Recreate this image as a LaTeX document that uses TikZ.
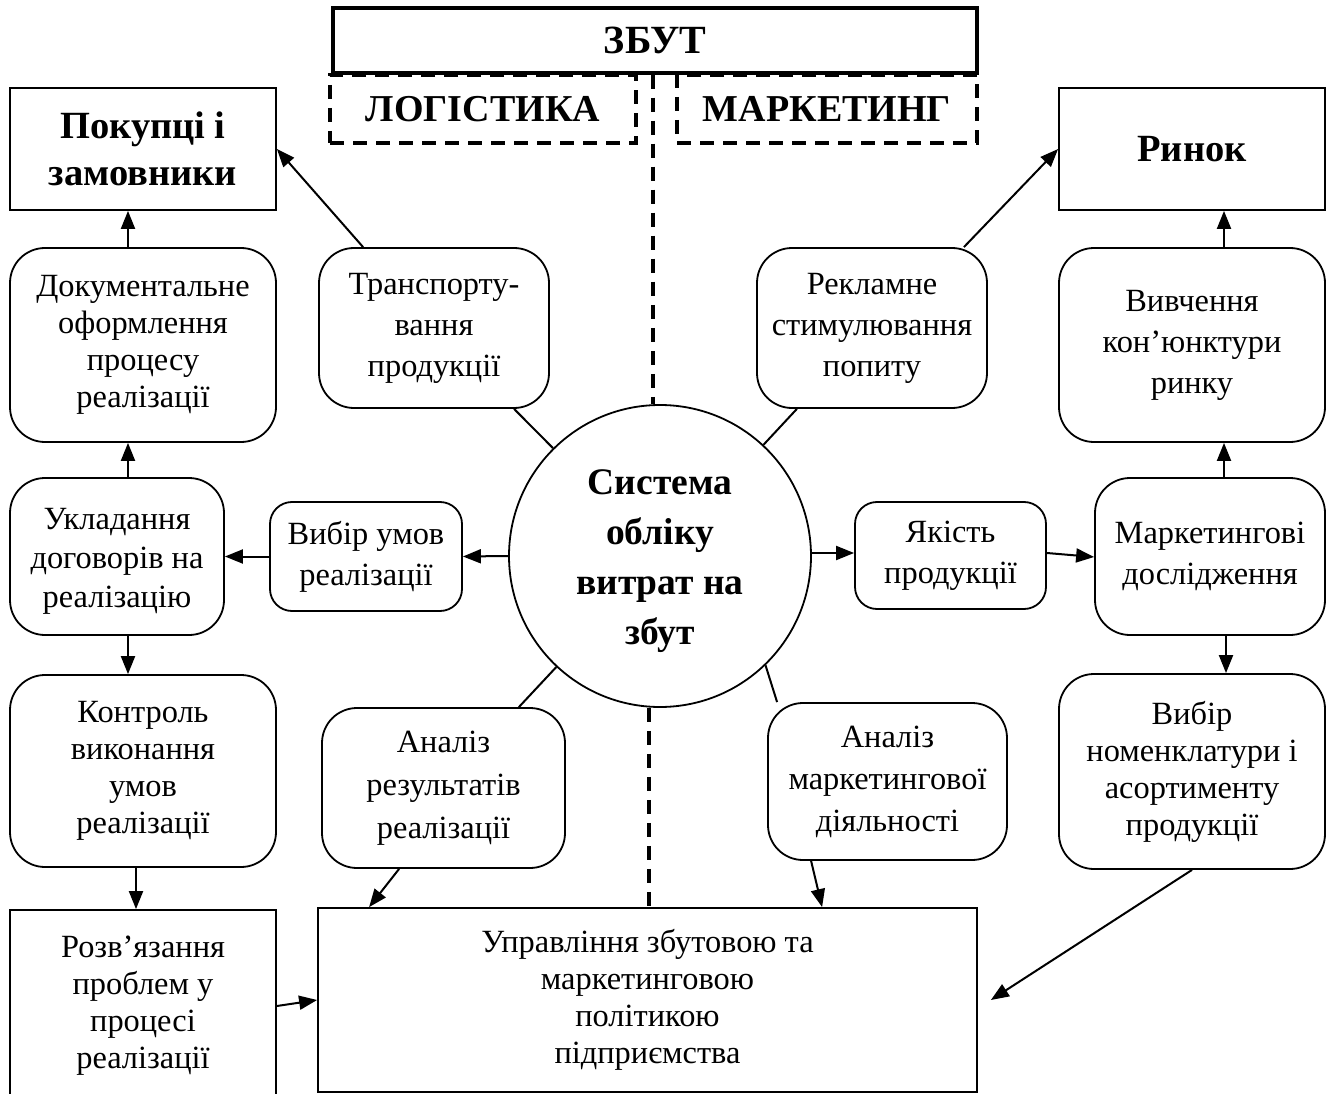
\documentclass[tikz,border=0pt]{standalone}
\usepackage{fontspec}
\setmainfont{Liberation Serif}
\usetikzlibrary{arrows.meta,calc}
\begin{document}
\begin{tikzpicture}[x=1pt,y=-1pt,
  box/.style={draw, line width=1.8pt, align=center, inner sep=0pt, font=\fontsize{32.4}{37}\selectfont},
  rbox/.style={box, rounded corners=35pt},
  wide/.style={font=\fontsize{32.4}{41}\selectfont},
  bbox/.style={box, font=\fontsize{38.5}{47}\selectfont\bfseries},
  dbox/.style={draw, line width=3.5pt, dash pattern=on 14pt off 9pt, align=center, inner sep=0pt, font=\fontsize{38}{44}\selectfont\bfseries},
  arr/.style={-{Triangle[length=18pt,width=14pt]}, line width=2pt},
  ln/.style={line width=2pt},
  dsh/.style={line width=3.5pt, dash pattern=on 14pt off 9pt}
]
\useasboundingbox (0,0) rectangle (1334,1094);
\clip (0,0) rectangle (1334,1094);

% top
\node[box, line width=3.5pt, font=\fontsize{40}{44}\selectfont\bfseries, minimum width=644pt, minimum height=65pt] (zbut) at (655,40.5) {ЗБУТ};
\node[dbox, minimum width=306pt, minimum height=68pt] (log) at (483,109) {ЛОГІСТИКА};
\node[dbox, minimum width=300pt, minimum height=68pt] (mar) at (827,109) {МАРКЕТИНГ};

% corner boxes
\node[bbox, minimum width=266pt, minimum height=122pt] (pok) at (143,149) {Покупці і\\замовники};
\node[bbox, minimum width=266pt, minimum height=122pt] (rin) at (1192,149) {Ринок};

% second row
\node[rbox, minimum width=266pt, minimum height=194pt] (doc) at (143,345) {Документальне\\оформлення\\процесу\\реалізації};
\node[rbox, wide, minimum width=230pt, minimum height=160pt] (tr) at (434,328) {Транспорту-\\вання\\продукції};
\node[rbox, wide, minimum width=230pt, minimum height=160pt] (rek) at (872,328) {Рекламне\\стимулювання\\попиту};
\node[rbox, wide, minimum width=266pt, minimum height=194pt] (viv) at (1192,345) {Вивчення\\кон’юнктури\\ринку};

% middle row
\node[rbox, font=\fontsize{32.4}{39}\selectfont, minimum width=214pt, minimum height=157pt] (ukl) at (117,556.5) {\rule{0pt}{30pt}Укладання\\договорів на\\реалізацію};
\node[rbox, wide, minimum width=192pt, minimum height=109pt, rounded corners=22pt] (vu) at (366,556.5) {Вибір умов\\реалізації};
\node[draw, circle, line width=1.8pt, minimum size=302pt, inner sep=0pt, align=center, font=\fontsize{37.5}{50}\selectfont\bfseries] (circ) at (660,556) {\rule{0pt}{36pt}Система\\обліку\\витрат на\\збут};
\node[rbox, wide, minimum width=191pt, minimum height=107pt, rounded corners=22pt] (yak) at (950.5,555.5) {Якість\\продукції};
\node[rbox, wide, minimum width=230pt, minimum height=157pt] (md) at (1210,556.5) {Маркетингові\\дослідження};

% lower row
\node[rbox, minimum width=266pt, minimum height=192pt] (kon) at (143,771) {Контроль\\виконання\\умов\\реалізації};
\node[rbox, font=\fontsize{32.4}{43}\selectfont, minimum width=243pt, minimum height=160pt] (ar) at (443.5,788) {Аналіз\\результатів\\реалізації};
\node[rbox, font=\fontsize{32.4}{42}\selectfont, minimum width=239pt, minimum height=157pt] (am) at (887.5,781.5) {Аналіз\\маркетингової\\діяльності};
\node[rbox, minimum width=266pt, minimum height=195pt] (vn) at (1192,771.5) {Вибір\\номенклатури і\\асортименту\\продукції};

% bottom
\node[box, minimum width=266pt, minimum height=192pt] (roz) at (143,1006) {Розв’язання\\проблем у\\процесі\\реалізації};
\node[box, minimum width=659pt, minimum height=184pt] (upr) at (647.5,1000) {Управління збутовою та\\маркетинговою\\політикою\\підприємства};

% dashed divider
\draw[dsh] (zbut.south -| 653,0) -- (653,0 |- circ.north);
\draw[dsh] (649,0 |- circ.south) -- (649,0 |- upr.north);

% helper coordinates
\coordinate (cl) at (128,0);
\coordinate (cr) at (1224,0);
\coordinate (ck) at (136,0);

% left column arrows
\draw[arr] (cl |- doc.north) -- (cl |- pok.south);
\draw[arr] (cl |- ukl.north) -- (cl |- doc.south);
\draw[arr] (cl |- ukl.south) -- (cl |- kon.north);
\draw[arr] (ck |- kon.south) -- (ck |- roz.north);
\draw[arr] (roz.east) -- (upr.west);

% right column arrows
\draw[arr] (cr |- viv.north) -- (cr |- rin.south);
\draw[arr] (cr |- md.north) -- (cr |- viv.south);
\draw[arr] (1226,0 |- md.south) -- (1226,0 |- vn.north);

% center horizontal
\draw[arr] (circ.west) -- (vu.east);
\draw[arr] (vu.west) -- (ukl.east);
\draw[arr] (circ.east |- 0,553) -- (yak.west |- 0,553);
\draw[arr] (yak.east |- 0,553) -- (md.west |- 0,557);

% diagonals
\draw[ln] (circ) -- (tr);
\draw[ln] (circ) -- (rek);
\draw[ln] (circ) -- (ar);
\draw[ln] (circ.-46) -- ([xshift=10pt]am.north west);
\draw[arr] ([xshift=45pt]tr.north west) -- (pok.east);
\draw[arr] ([xshift=-24pt]rek.north east) -- (rin.west);
\draw[arr] ([xshift=78pt]ar.south west) -- ([xshift=52pt]upr.north west);
\draw[arr] ([xshift=44pt]am.south west) -- ([xshift=505pt]upr.north west);
\coordinate (uprtip) at ([xshift=13pt]upr.east);
\draw[arr] (vn.south) -- (uprtip);
\end{tikzpicture}
\end{document}
